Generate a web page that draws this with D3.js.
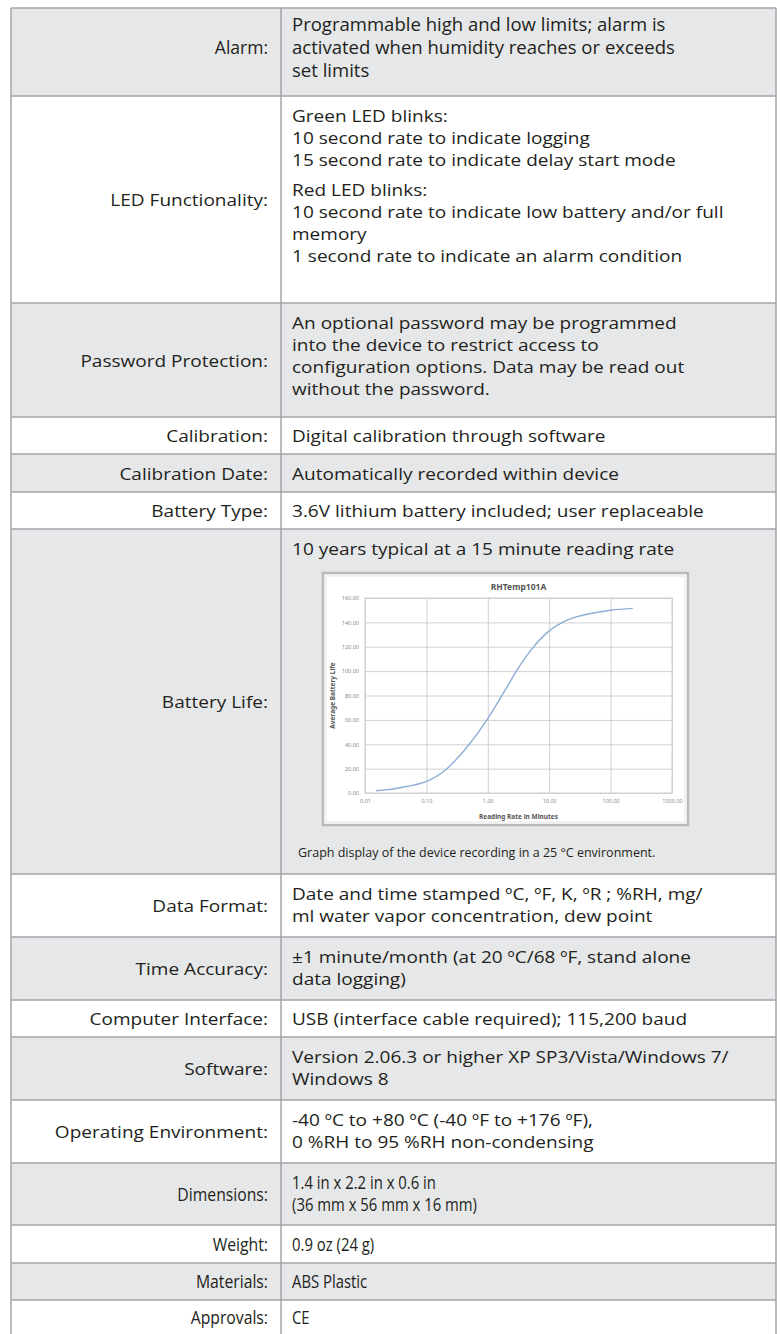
<!DOCTYPE html>
<html><head><meta charset="utf-8">
<script src="https://cdn.jsdelivr.net/npm/d3@7"></script>
<style>body{margin:0;background:#fff}svg{display:block}</style>
</head><body>
<svg id="c" width="781" height="1334"></svg>
<script>
// ---------- DATA ----------
const labels = ["Alarm:","LED Functionality:","Password Protection:","Calibration:","Calibration Date:","Battery Type:","Battery Life:","Data Format:","Time Accuracy:","Computer Interface:","Software:","Operating Environment:","Dimensions:","Weight:","Materials:","Approvals:"];
const values = [
  ["Programmable high and low limits; alarm is","activated when humidity reaches or exceeds","set limits"],
  ["Green LED blinks:","10 second rate to indicate logging","15 second rate to indicate delay start mode","|","Red LED blinks:","10 second rate to indicate low battery and/or full","memory","1 second rate to indicate an alarm condition"],
  ["An optional password may be programmed","into the device to restrict access to","configuration options. Data may be read out","without the password."],
  ["Digital calibration through software"],
  ["Automatically recorded within device"],
  ["3.6V lithium battery included; user replaceable"],
  ["10 years typical at a 15 minute reading rate"],
  ["Date and time stamped ºC, ºF, K, ºR ; %RH, mg/","ml water vapor concentration, dew point"],
  ["±1 minute/month (at 20 ºC/68 ºF, stand alone","data logging)"],
  ["USB (interface cable required); 115,200 baud"],
  ["Version 2.06.3 or higher XP SP3/Vista/Windows 7/","Windows 8"],
  ["-40 ºC to +80 ºC (-40 ºF to +176 ºF),","0 %RH to 95 %RH non-condensing"],
  ["1.4 in x 2.2 in x 0.6 in","(36 mm x 56 mm x 16 mm)"],
  ["0.9 oz (24 g)"],
  ["ABS Plastic"],
  ["CE"]
];
const rowStyle = ["alarm","reg","reg","reg","reg","reg","chart","reg","reg","reg","reg","reg","narrow","narrow","narrow","narrow"];
const chartTitle = "RHTemp101A";
const xTitle = "Reading Rate in Minutes";
const yTitle = "Average Battery Life";
const caption = "Graph display of the device recording in a 25 °C environment.";
const xTicks = [0.01, 0.1, 1, 10, 100, 1000];
const yTicks = [0, 20, 40, 60, 80, 100, 120, 140, 160];
const rate = [0.015, 0.02, 0.03, 0.05, 0.1, 0.2, 0.3, 0.5, 1, 2, 3, 5, 10, 20, 50, 100, 230];
const life = [1.8, 2.4, 3.5, 5.5, 9.5, 18.5, 27, 40, 61, 86, 101, 117, 133, 142, 147.5, 150, 151.5];

// ---------- LAYOUT ----------
const rowTops = [8, 96, 303, 417, 454, 492, 529, 874, 937, 1000, 1037, 1100, 1163, 1225, 1263, 1300, 1334];
const L = 11, R = 776, DIV = 281, LABX = 268, VALX = 292;
const styles = {
  reg:    {fs: 17, sx: 1.12, lh: 22, first: 19, lab: {fs: 17, sx: 1.12}},
  chart:  {fs: 17, sx: 1.12, lh: 22, first: 19, lab: {fs: 17, sx: 1.12}},
  alarm:  {fs: 17.5, sx: 1.06, lh: 23, first: 16, lab: {fs: 17.5, sx: 1.0}},
  narrow: {fs: 17.5, sx: 0.85, lh: 22, first: 19, lab: {fs: 17.5, sx: 0.9}}
};
const ink = "#231f20", grey = "#e6e7e8", rule = "#a3a5a8";
const font = "'Open Sans', sans-serif";

const svg = d3.select("#c");
const rows = svg.append("g");

function put(g, x, y, sx, fs, anchor, txt) {
  g.append("g").attr("transform", `translate(${x},${y}) scale(${sx},1)`)
    .append("text").attr("text-anchor", anchor).attr("font-family", font).attr("font-size", fs)
    .attr("fill", ink).text(txt);
}

labels.forEach((lab, i) => {
  const top = rowTops[i], bot = rowTops[i + 1], h = bot - top;
  const st = styles[rowStyle[i]];
  rows.append("rect").attr("x", L).attr("y", top).attr("width", R - L).attr("height", h)
    .attr("fill", i % 2 === 0 ? grey : "#fff");
  const lines = values[i].filter(v => v !== "|");
  const n = lines.length;
  let labelMid = top + h / 2;
  if (rowStyle[i] === "alarm") labelMid = top + st.first + (n - 1) * st.lh / 2;
  put(rows, LABX, labelMid + 6.5, st.lab.sx, st.lab.fs, "end", lab);
  let y = top + st.first + 6.5;
  if (n === 1 && rowStyle[i] !== "chart") y = top + h / 2 + 6.5;
  values[i].forEach(line => {
    if (line === "|") { y += 8; return; }
    put(rows, VALX, y, st.sx, st.fs, "start", line);
    y += st.lh;
  });
});
rowTops.slice(0, -1).forEach(t => {
  rows.append("line").attr("x1", L).attr("x2", R).attr("y1", t).attr("y2", t)
    .attr("stroke", rule).attr("stroke-width", 1.5);
});
[L, DIV, R].forEach(x => rows.append("line").attr("x1", x).attr("x2", x).attr("y1", rowTops[0]).attr("y2", 1334)
  .attr("stroke", rule).attr("stroke-width", 1.5));

// ---------- CHART ----------
const frame = {x: 323, y: 573, w: 365, h: 252};
const plot = {l: 365, r: 672, t: 598, b: 793};
const ch = svg.append("g");
ch.append("rect").attr("x", frame.x).attr("y", frame.y).attr("width", frame.w).attr("height", frame.h)
  .attr("fill", "#fff").attr("stroke", "#b9babc").attr("stroke-width", 2.5);
ch.append("rect").attr("x", frame.x + 3).attr("y", frame.y + 3).attr("width", frame.w - 6).attr("height", frame.h - 6)
  .attr("fill", "none").attr("stroke", "#e3e3e3").attr("stroke-width", 1);

const x = d3.scaleLog().domain([0.01, 1000]).range([plot.l, plot.r]);
const y = d3.scaleLinear().domain([0, 160]).range([plot.b, plot.t]);

const xAxis = ch.append("g").attr("transform", `translate(0,${plot.b})`)
  .call(d3.axisBottom(x).tickValues(xTicks).tickSize(-(plot.b - plot.t)).tickPadding(6).tickFormat(d3.format(".2f")));
const yAxis = ch.append("g").attr("transform", `translate(${plot.l},0)`)
  .call(d3.axisLeft(y).tickValues(yTicks).tickSize(-(plot.r - plot.l)).tickPadding(6).tickFormat(d3.format(".2f")));
[xAxis, yAxis].forEach(a => {
  a.select(".domain").remove();
  a.selectAll(".tick line").attr("stroke", "#cfd0d2").attr("stroke-width", 1);
  a.selectAll(".tick text").attr("fill", "#8a8a8a").attr("font-size", 5.5).attr("font-family", "'Noto Sans', sans-serif");
});
ch.append("rect").attr("x", plot.l).attr("y", plot.t).attr("width", plot.r - plot.l).attr("height", plot.b - plot.t)
  .attr("fill", "none").attr("stroke", "#cfd0d2");

const pts = rate.map((r, i) => [r, life[i]]);
ch.append("path").datum(pts).attr("fill", "none").attr("stroke", "#8eaed6").attr("stroke-width", 1.4)
  .attr("d", d3.line().x(d => x(d[0])).y(d => y(d[1])).curve(d3.curveMonotoneX));

ch.append("text").attr("x", (plot.l + plot.r) / 2).attr("y", 590).attr("text-anchor", "middle")
  .attr("font-family", "'Noto Sans', sans-serif").attr("font-weight", "bold").attr("font-size", 8.5).attr("fill", "#555").text(chartTitle);
ch.append("text").attr("x", (plot.l + plot.r) / 2).attr("y", 819).attr("text-anchor", "middle")
  .attr("font-family", "'Noto Sans', sans-serif").attr("font-weight", "bold").attr("font-size", 6.5).attr("fill", "#555").text(xTitle);
ch.append("text").attr("transform", `translate(335,${(plot.t + plot.b) / 2}) rotate(-90)`).attr("text-anchor", "middle")
  .attr("font-family", "'Noto Sans', sans-serif").attr("font-weight", "bold").attr("font-size", 6.5).attr("fill", "#555").text(yTitle);

svg.append("text").attr("x", 298).attr("y", 857).attr("font-family", font).attr("font-size", 12.5)
  .attr("fill", ink).text(caption);
</script>
</body></html>
